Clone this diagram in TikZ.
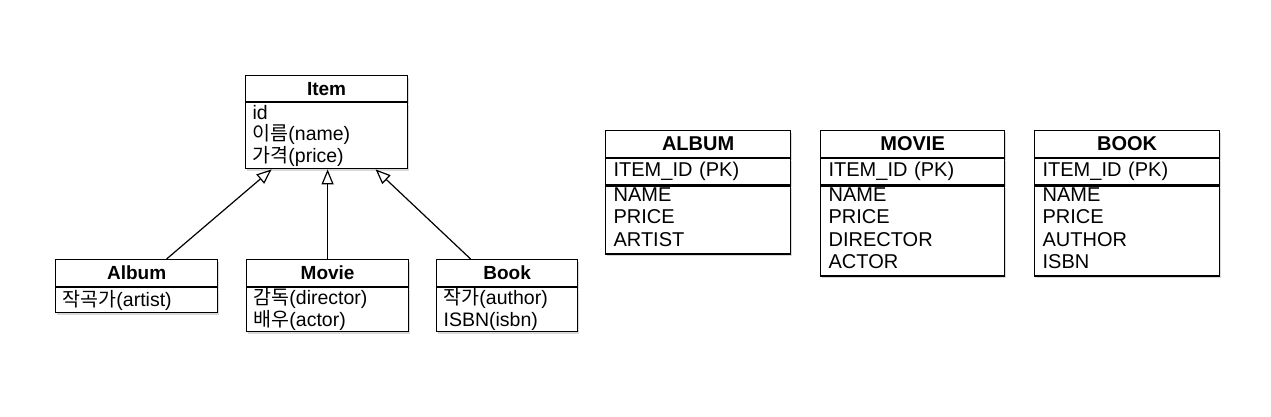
\documentclass[tikz,border=0pt]{standalone}
\usepackage{fontspec}
\setmainfont{Liberation Sans}
\newfontfamily\kr{Noto Sans CJK KR}
\usetikzlibrary{arrows.meta,shadows}
\newcommand\lowstrut{\rule[-6pt]{0pt}{6pt}}
\begin{document}
\begin{tikzpicture}[x=1pt,y=-1pt,
  box/.style={draw, line width=1.2pt, fill=white, anchor=north west, inner sep=0pt,
    drop shadow={shadow xshift=1pt, shadow yshift=-2pt, opacity=0.3}},
  chead/.style={box, font=\fontsize{19}{21}\selectfont\bfseries},
  cbody/.style={box, inner xsep=7pt, align=left, font=\fontsize{19.5}{21.8}\selectfont},
  thead/.style={box, font=\fontsize{20}{22}\selectfont\bfseries},
  tbody/.style={box, inner xsep=8pt, align=left, font=\fontsize{20}{22.5}\selectfont},
  inh/.style={line width=1.2pt, -{Triangle[open,length=15pt,width=12pt]}}]
\useasboundingbox (0,0) rectangle (1271,417);

% ---- class diagram ----
\node[chead, minimum width=162pt, minimum height=26pt] (itemH) at (245,75) {Item};
\node[cbody, text width=148pt, minimum height=66pt] (itemB) at (itemH.south west)
  {id\\{\kr 이름}(name)\\{\kr 가격}(price)};

\node[chead, minimum width=162pt, minimum height=27pt] (albumH) at (55,259) {Album};
\node[cbody, text width=148pt, minimum height=25pt] (albumB) at (albumH.south west)
  {{\kr 작곡가}(artist)};

\node[chead, minimum width=162pt, minimum height=27pt] (movieH) at (246,259) {Movie};
\node[cbody, text width=148pt, minimum height=44pt] (movieB) at (movieH.south west)
  {{\kr 감독}(director)\\{\kr 배우}(actor)};

\node[chead, minimum width=141pt, minimum height=27pt] (bookH) at (436,259) {Book};
\node[cbody, text width=127pt, minimum height=44pt] (bookB) at (bookH.south west)
  {{\kr 작가}(author)\\ISBN(isbn)};

\draw[inh] ([xshift=30pt]albumH.north) -- ([xshift=-55pt]itemB.south);
\draw[inh] (movieH.north) -- (movieH.north |- itemB.south);
\draw[inh] ([xshift=-36.5pt]bookH.north) -- ([xshift=49pt]itemB.south);

% ---- tables ----
\node[thead, minimum width=185pt, minimum height=27pt] (albumT) at (605,130) {ALBUM};
\node[tbody, text width=169pt, minimum height=26pt] (albumPK) at (albumT.south west) {ITEM\_ID (PK)};
\node[tbody, text width=169pt, minimum height=68pt] (albumC) at (albumPK.south west)
  {NAME\\PRICE\\ARTIST\lowstrut};

\node[thead, minimum width=184pt, minimum height=27pt] (movieT) at (820,130) {MOVIE};
\node[tbody, text width=168pt, minimum height=26pt] (moviePK) at (movieT.south west) {ITEM\_ID (PK)};
\node[tbody, text width=168pt, minimum height=90pt] (movieC) at (moviePK.south west)
  {NAME\\PRICE\\DIRECTOR\\ACTOR\lowstrut};

\node[thead, minimum width=185pt, minimum height=27pt] (bookT) at (1034,130) {BOOK};
\node[tbody, text width=169pt, minimum height=26pt] (bookPK) at (bookT.south west) {ITEM\_ID (PK)};
\node[tbody, text width=169pt, minimum height=90pt] (bookC) at (bookPK.south west)
  {NAME\\PRICE\\AUTHOR\\ISBN\lowstrut};
\end{tikzpicture}
\end{document}
